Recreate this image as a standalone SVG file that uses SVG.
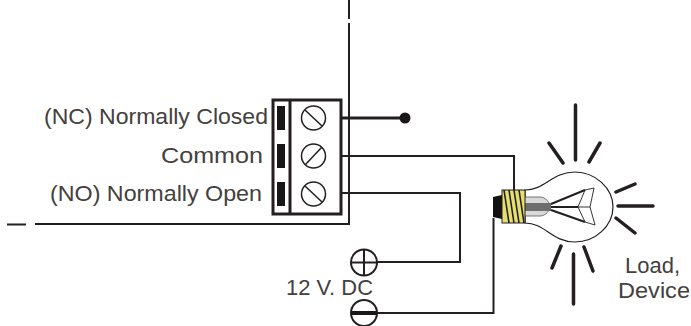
<svg xmlns="http://www.w3.org/2000/svg" width="691" height="326" viewBox="0 0 691 326">
<style>
text{font-family:"Liberation Sans",Arial,sans-serif;font-size:22px;fill:#44403e}
.w{fill:none;stroke:#231f20;stroke-width:2}
.b{fill:none;stroke:#231f20;stroke-width:3}
.ray{fill:none;stroke:#231f20;stroke-width:3.500;stroke-linecap:round}
.s{fill:#fff;stroke:#231f20;stroke-width:1.500}
.slot{fill:#1a1718}
</style>
<g id="enclosure"><path class="w" d="M349 0V19M349 23V224H35M7 224.500H26"/></g>
<g id="terminal-block">
<rect class="b" x="273" y="100" width="68" height="114"/>
<path class="b" d="M290 100V214"/>
<rect class="slot" x="277" y="106" width="8" height="24"/>
<rect class="slot" x="277" y="144" width="8" height="24"/>
<rect class="slot" x="277" y="182" width="8" height="24"/>
<circle class="s" cx="313.500" cy="118" r="12"/><path class="s" d="M305 110L322 126"/>
<circle class="s" cx="313.500" cy="156" r="12"/><path class="s" d="M305 165L322 147"/>
<circle class="s" cx="313.500" cy="194" r="12"/><path class="s" d="M305 186L322 202"/>
</g>
<g id="connectors">
<path class="b" d="M341 118H405"/>
<path class="w" d="M341 156H514V190"/>
<path class="w" d="M341 193H460V262H377"/>
<path class="w" d="M377 313H493.500V218"/>
</g>
<g id="nc-dot"><circle cx="405" cy="118" r="5.500" fill="#1a1718"/></g>
<g id="plus"><circle cx="364" cy="262.500" r="13" class="w"/><path class="w" d="M351 262.500H377M364 249.500V275.500"/></g>
<g id="minus"><circle cx="364" cy="313" r="13" class="w"/><path d="M351 313H377" fill="none" stroke="#1a1718" stroke-width="4"/></g>
<g id="bulb">
<path d="M525 190C545 190 552 172 575 172C595 172 613 188 613 207C613 226 595 242 575 242C552 242 545 223 525 223Z" fill="#fff" stroke="#231f20" stroke-width="1.200"/>
<path d="M524 197H540C546 197 550 203 550 206.500C550 210 546 216 540 216H524Z" fill="#d9d9d9" stroke="#555" stroke-width="0.800"/>
<path d="M524 203H551V211H524Z" fill="#6e6e6e"/>
<path d="M551 204L585 190M551 210L585 222M551 207H578" fill="none" stroke="#231f20" stroke-width="2"/>
<path d="M585 190L594 188L590 207L595 225L585 222L578 207L585 190M578 207H590" fill="none" stroke="#231f20" stroke-width="0.900"/>
<path d="M493 197L502 195V219L493 217Z" fill="#111"/>
<rect x="502" y="190" width="23" height="33" fill="#e6df6d" stroke="#231f20" stroke-width="1"/>
<path d="M504 190L509 223M509 190L514 223M514 190L519 223M519 190L524 223" fill="none" stroke="#231f20" stroke-width="1.600"/>
<path class="ray" d="M575.500 105V160M549 143L563 163M600 143L589 162M635 184L616 192M653 206H618M635 233L616 218M561 246L552 268M584 247L593 271M573.500 304V254"/>
</g>
<g id="labels">
<text x="44" y="124" textLength="224" lengthAdjust="spacingAndGlyphs">(NC) Normally Closed</text>
<text x="161" y="163" textLength="102" lengthAdjust="spacingAndGlyphs">Common</text>
<text x="50" y="201" textLength="212" lengthAdjust="spacingAndGlyphs">(NO) Normally Open</text>
<text x="286" y="295" textLength="87" lengthAdjust="spacingAndGlyphs">12 V. DC</text>
<text x="625" y="273" textLength="55" lengthAdjust="spacingAndGlyphs">Load,</text>
<text x="618" y="298" textLength="72" lengthAdjust="spacingAndGlyphs">Device</text>
</g>
</svg>
